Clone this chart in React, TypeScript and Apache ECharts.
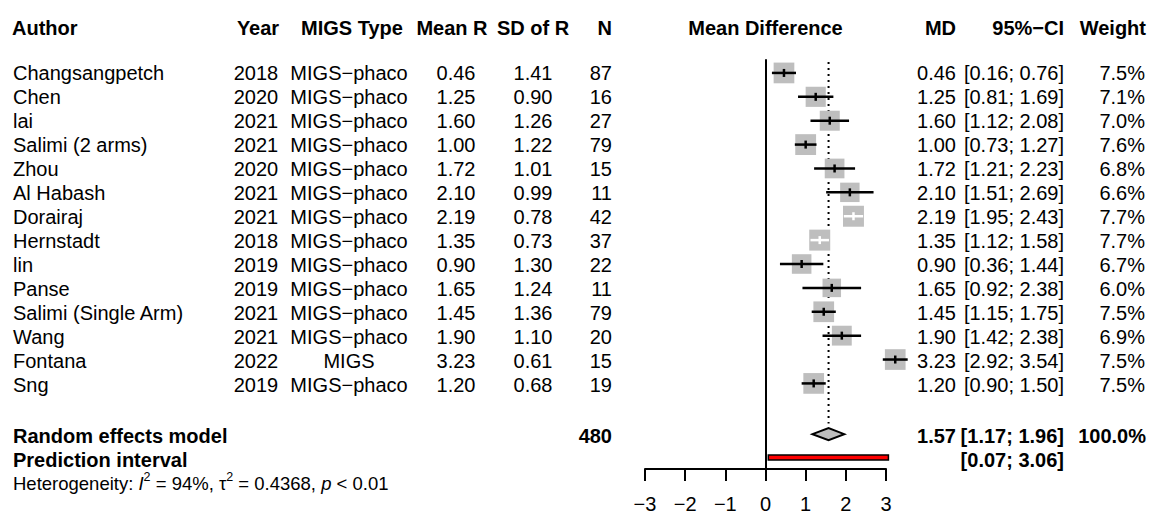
import React, { useEffect, useRef } from "react";
import * as echarts from "echarts";

// ---------- data ----------
const authors = [
  "Changsangpetch", "Chen", "lai", "Salimi (2 arms)", "Zhou", "Al Habash", "Dorairaj",
  "Hernstadt", "lin", "Panse", "Salimi (Single Arm)", "Wang", "Fontana", "Sng",
];
const years = [2018, 2020, 2021, 2021, 2020, 2021, 2021, 2018, 2019, 2019, 2021, 2021, 2022, 2019];
const migsTypes = [
  "MIGS−phaco", "MIGS−phaco", "MIGS−phaco", "MIGS−phaco", "MIGS−phaco", "MIGS−phaco", "MIGS−phaco",
  "MIGS−phaco", "MIGS−phaco", "MIGS−phaco", "MIGS−phaco", "MIGS−phaco", "MIGS", "MIGS−phaco",
];
const meanR = [0.46, 1.25, 1.6, 1.0, 1.72, 2.1, 2.19, 1.35, 0.9, 1.65, 1.45, 1.9, 3.23, 1.2];
const sdR = [1.41, 0.9, 1.26, 1.22, 1.01, 0.99, 0.78, 0.73, 1.3, 1.24, 1.36, 1.1, 0.61, 0.68];
const nR = [87, 16, 27, 79, 15, 11, 42, 37, 22, 11, 79, 20, 15, 19];
const md = [0.46, 1.25, 1.6, 1.0, 1.72, 2.1, 2.19, 1.35, 0.9, 1.65, 1.45, 1.9, 3.23, 1.2];
const ciLo = [0.16, 0.81, 1.12, 0.73, 1.21, 1.51, 1.95, 1.12, 0.36, 0.92, 1.15, 1.42, 2.92, 0.9];
const ciHi = [0.76, 1.69, 2.08, 1.27, 2.23, 2.69, 2.43, 1.58, 1.44, 2.38, 1.75, 2.38, 3.54, 1.5];
const weights = [7.5, 7.1, 7.0, 7.6, 6.8, 6.6, 7.7, 7.7, 6.7, 6.0, 7.5, 6.9, 7.5, 7.5];

const totalN = 480;
const summaryMD = 1.57;
const summaryLo = 1.17;
const summaryHi = 1.96;
const summaryWeight = "100.0%";
const predLo = 0.07;
const predHi = 3.06;
const xTicks = [-3, 3];
const hetText = "{n|Heterogeneity: }{i|I}{s|2}{n| = 94%, τ}{s|2}{n| = 0.4368, }{i|p}{n| < 0.01}";

// ---------- layout ----------
const W = 1150;
const H = 514;
const FONT = "'Liberation Sans', Arial, Helvetica, sans-serif";
const ROW0 = 73;
const ROWH = 24;
const GRID_LEFT = 645;
const GRID_RIGHT_PX = 886;
const GRID_TOP = 60;
const GRID_BOTTOM_PX = 471;
const Y_MIN = (GRID_TOP - ROW0) / ROWH;
const Y_MAX = (GRID_BOTTOM_PX - ROW0) / ROWH;
const SUMMARY_ROW = (436 - ROW0) / ROWH;
const PRED_ROW = (459.5 - ROW0) / ROWH;
const HEADER_Y = 28;
const HET_Y = 483;
const BOX_K = 7.56;

const rowY = (r: number) => ROW0 + ROWH * r;
const xPx = (v: number) =>
  GRID_LEFT + ((v - xTicks[0]) / (xTicks[1] - xTicks[0])) * (GRID_RIGHT_PX - GRID_LEFT);
const minus = (s: string) => s.replace(/-/g, "−");
const f2 = (v: number) => minus(v.toFixed(2));
const ci = (lo: number, hi: number) => `[${f2(lo)}; ${f2(hi)}]`;

function txt(text: string, x: number, y: number, align: string, bold = false, size = 20) {
  return {
    type: "text",
    x,
    y,
    silent: true,
    style: {
      text,
      fill: "#000",
      fontFamily: FONT,
      fontSize: size,
      fontWeight: bold ? "bold" : "normal",
      align,
      verticalAlign: "middle",
    },
  };
}

function buildGraphics() {
  const g: any[] = [];
  // headers
  g.push(txt("Author", 12, HEADER_Y, "left", true));
  g.push(txt("Year", 258, HEADER_Y, "center", true));
  g.push(txt("MIGS Type", 352, HEADER_Y, "center", true));
  g.push(txt("Mean R", 452, HEADER_Y, "center", true));
  g.push(txt("SD of R", 533, HEADER_Y, "center", true));
  g.push(txt("N", 612, HEADER_Y, "right", true));
  g.push(txt("Mean Difference", xPx(0), HEADER_Y, "center", true));
  g.push(txt("MD", 956, HEADER_Y, "right", true));
  g.push(txt("95%−CI", 1064, HEADER_Y, "right", true));
  g.push(txt("Weight", 1146, HEADER_Y, "right", true));
  // study rows
  authors.forEach((a, i) => {
    const y = rowY(i);
    g.push(txt(a, 13, y, "left"));
    g.push(txt(String(years[i]), 256, y, "center"));
    g.push(txt(migsTypes[i], 349, y, "center"));
    g.push(txt(f2(meanR[i]), 456, y, "center"));
    g.push(txt(f2(sdR[i]), 533, y, "center"));
    g.push(txt(String(nR[i]), 612, y, "right"));
    g.push(txt(f2(md[i]), 956, y, "right"));
    g.push(txt(ci(ciLo[i], ciHi[i]), 1064, y, "right"));
    g.push(txt(weights[i].toFixed(1) + "%", 1145, y, "right"));
  });
  // summary
  const sy = rowY(SUMMARY_ROW);
  g.push(txt("Random effects model", 13, sy, "left", true));
  g.push(txt(String(totalN), 612, sy, "right", true));
  g.push(txt(f2(summaryMD), 956, sy, "right", true));
  g.push(txt(ci(summaryLo, summaryHi), 1064, sy, "right", true));
  g.push(txt(summaryWeight, 1146, sy, "right", true));
  const py = rowY(PRED_ROW);
  g.push(txt("Prediction interval", 13, py, "left", true));
  g.push(txt(ci(predLo, predHi), 1064, py, "right", true));
  // heterogeneity
  g.push({
    type: "text",
    x: 13,
    y: HET_Y,
    silent: true,
    style: {
      text: hetText,
      fill: "#000",
      fontFamily: FONT,
      fontSize: 18.5,
      align: "left",
      verticalAlign: "middle",
      rich: {
        n: { fontFamily: FONT, fontSize: 18.5, lineHeight: 26, fill: "#000", verticalAlign: "middle" },
        i: { fontFamily: FONT, fontSize: 18.5, lineHeight: 26, fontStyle: "italic", fill: "#000", verticalAlign: "middle" },
        s: { fontFamily: FONT, fontSize: 12.5, lineHeight: 14, fill: "#000", verticalAlign: "top" },
      },
    },
  });
  return g;
}

export default function App() {
  const ref = useRef<HTMLDivElement>(null);
  useEffect(() => {
    document.body.style.margin = "0";
    if (!ref.current) return;
    const chart = echarts.init(ref.current, undefined, { renderer: "svg" });
    const studyData = md.map((m, i) => [m, i, ciLo[i], ciHi[i], weights[i]]);
    const option: any = {
      animation: false,
      backgroundColor: "#ffffff",
      grid: {
        left: GRID_LEFT,
        right: W - GRID_RIGHT_PX,
        top: GRID_TOP,
        bottom: H - GRID_BOTTOM_PX,
        containLabel: false,
      },
      xAxis: {
        type: "value",
        min: xTicks[0],
        max: xTicks[1],
        interval: 1,
        axisLine: { show: true, onZero: false, lineStyle: { color: "#000", width: 2 } },
        axisTick: { show: true, length: 12, lineStyle: { color: "#000", width: 2 } },
        axisLabel: {
          show: true,
          fontSize: 20,
          fontFamily: FONT,
          color: "#000",
          margin: 25,
          formatter: (v: number) => minus(String(v)),
        },
        splitLine: { show: false },
      },
      yAxis: {
        type: "value",
        inverse: true,
        min: Y_MIN,
        max: Y_MAX,
        axisLine: { show: true, onZero: true, lineStyle: { color: "#000", width: 2 } },
        axisTick: { show: false },
        axisLabel: { show: false },
        splitLine: { show: false },
      },
      series: [
        {
          type: "line",
          data: [
            [summaryMD, Y_MIN + 0.08],
            [summaryMD, SUMMARY_ROW - 0.45],
          ],
          symbol: "none",
          silent: true,
          lineStyle: { color: "#000", width: 2, type: [2, 4] },
          z: 1,
        },
        {
          type: "custom",
          clip: false,
          silent: true,
          z: 3,
          data: studyData,
          renderItem: (params: any, api: any) => {
            const m = api.value(0);
            const r = api.value(1);
            const lo = api.value(2);
            const hi = api.value(3);
            const w = api.value(4);
            const c = api.coord([m, r]);
            const pl = api.coord([lo, r]);
            const ph = api.coord([hi, r]);
            const s = BOX_K * Math.sqrt(w);
            const inside = pl[0] >= c[0] - s / 2 && ph[0] <= c[0] + s / 2;
            const col = inside ? "#ffffff" : "#000000";
            return {
              type: "group",
              children: [
                {
                  type: "rect",
                  shape: { x: c[0] - s / 2, y: c[1] - s / 2, width: s, height: s },
                  style: { fill: "#bebebe" },
                },
                {
                  type: "line",
                  shape: { x1: pl[0], y1: c[1], x2: ph[0], y2: c[1] },
                  style: { stroke: col, lineWidth: 2.5 },
                },
                {
                  type: "line",
                  shape: { x1: c[0], y1: c[1] - 4, x2: c[0], y2: c[1] + 4 },
                  style: { stroke: col, lineWidth: 2.5 },
                },
              ],
            };
          },
        },
        {
          type: "custom",
          clip: false,
          silent: true,
          z: 3,
          data: [[summaryMD, SUMMARY_ROW, summaryLo, summaryHi]],
          renderItem: (params: any, api: any) => {
            const r = api.value(1);
            const c = api.coord([api.value(0), r]);
            const pl = api.coord([api.value(2), r]);
            const ph = api.coord([api.value(3), r]);
            const hh = 6;
            return {
              type: "polygon",
              shape: {
                points: [
                  [pl[0], c[1]],
                  [c[0], c[1] - hh],
                  [ph[0], c[1]],
                  [c[0], c[1] + hh],
                ],
              },
              style: { fill: "#bebebe", stroke: "#000", lineWidth: 2 },
            };
          },
        },
        {
          type: "custom",
          clip: false,
          silent: true,
          z: 3,
          data: [[predLo, predHi, PRED_ROW]],
          renderItem: (params: any, api: any) => {
            const r = api.value(2);
            const pl = api.coord([api.value(0), r]);
            const ph = api.coord([api.value(1), r]);
            const hh = 2.5;
            return {
              type: "rect",
              shape: { x: pl[0], y: pl[1] - hh, width: ph[0] - pl[0], height: hh * 2 },
              style: { fill: "#ff0000", stroke: "#000", lineWidth: 1.5 },
            };
          },
        },
      ],
      graphic: buildGraphics(),
    };
    chart.setOption(option);
    return () => chart.dispose();
  }, []);
  return <div ref={ref} style={{ width: W, height: H }} />;
}
